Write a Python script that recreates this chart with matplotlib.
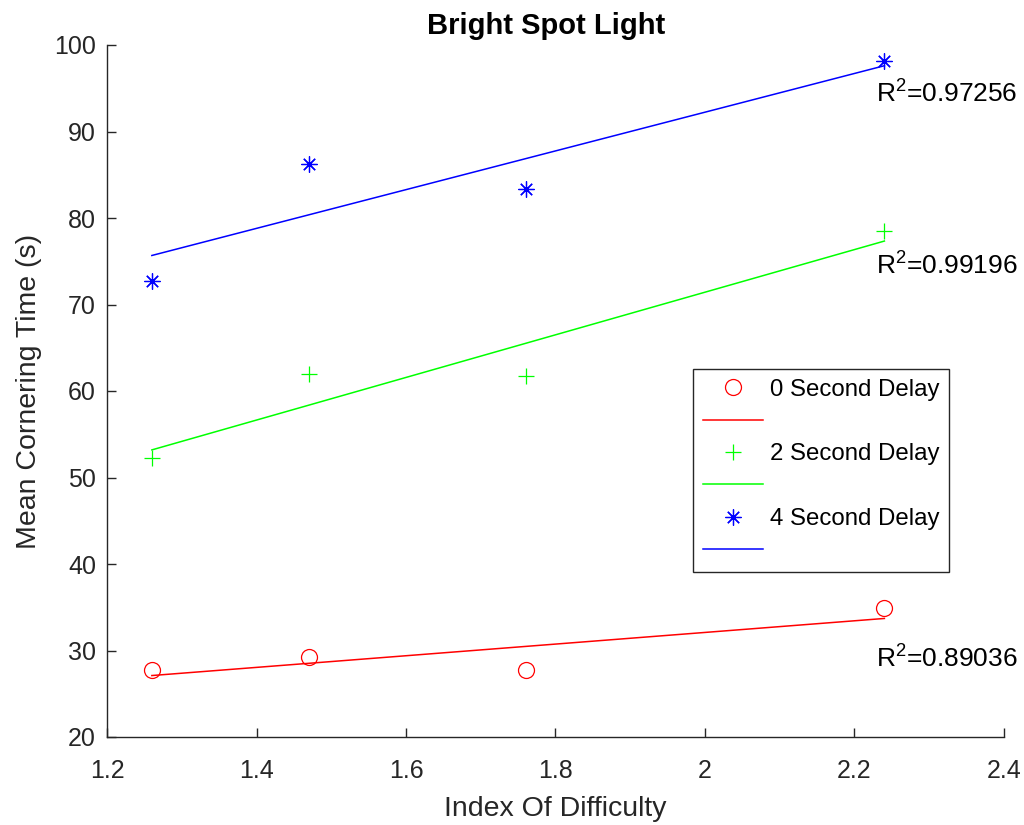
import numpy as np
import matplotlib
matplotlib.use("Agg")
import matplotlib.pyplot as plt
from matplotlib.lines import Line2D

plt.rcParams['font.family'] = ['Liberation Sans', 'DejaVu Sans']
plt.rcParams['mathtext.fontset'] = 'custom'
plt.rcParams['mathtext.rm'] = 'Liberation Sans'
plt.rcParams['mathtext.it'] = 'Liberation Sans'

# data
index_of_difficulty = [1.26, 1.47, 1.76, 2.24]
delay_0 = [27.8, 29.3, 27.8, 34.9]
delay_2 = [52.2, 62.0, 61.7, 78.5]
delay_4 = [72.7, 86.3, 83.4, 98.1]
series_labels = ['0 Second Delay', '2 Second Delay', '4 Second Delay']
r2_labels = ['R$^2$=0.89036', 'R$^2$=0.99196', 'R$^2$=0.97256']
r2_y = [28.0, 73.4, 93.3]

colors = ['#ff0000', '#00ff00', '#0000ff']
markers = ['o', '+', (8, 2, 0)]
dark = '#262626'


def main():
    fig = plt.figure(figsize=(10.24, 8.25), dpi=100)
    ax = fig.add_axes([107 / 1024, 88 / 825, 897 / 1024, 692 / 825])

    x = np.array(index_of_difficulty)
    handles = []
    labels = []
    for ys, c, m, lab, r2, ry in zip([delay_0, delay_2, delay_4], colors, markers,
                                     series_labels, r2_labels, r2_y):
        ys = np.array(ys)
        ax.plot(x, ys, linestyle='none', marker=m, color=c, markersize=11.5,
                markerfacecolor='none', markeredgewidth=0.9)
        # least-squares fit line
        k, b = np.polyfit(x, ys, 1)
        xf = np.array([x.min(), x.max()])
        ax.plot(xf, k * xf + b, color=c, lw=1.1)
        ax.text(2.229, ry, r2, fontsize=19, color='black', va='baseline', ha='left')

        handles.append(Line2D([], [], linestyle='none', marker=m, color=c, markersize=11.5,
                              markerfacecolor='none', markeredgewidth=0.9))
        labels.append(lab)
        handles.append(Line2D([], [], color=c, lw=1.1))
        labels.append('')

    ax.set_xlim(1.2, 2.4)
    ax.set_ylim(20, 100)
    ax.set_xticks(np.arange(1.2, 2.41, 0.2))
    ax.set_xticklabels(['1.2', '1.4', '1.6', '1.8', '2', '2.2', '2.4'])
    ax.set_yticks(np.arange(20, 101, 10))

    for s in ['top', 'right']:
        ax.spines[s].set_visible(False)
    for s in ['left', 'bottom']:
        ax.spines[s].set_color(dark)
        ax.spines[s].set_linewidth(1.0)
    ax.tick_params(axis='both', direction='in', length=6.5, width=1.0, color=dark,
                   labelcolor=dark, labelsize=18)
    ax.tick_params(axis='x', pad=16)
    ax.tick_params(axis='y', pad=8)

    ax.set_xlabel('Index Of Difficulty', fontsize=20.5, color=dark, labelpad=9)
    ax.set_ylabel('Mean Cornering Time (s)', fontsize=20.5, color=dark, labelpad=9)
    ax.set_title('Bright Spot Light', fontsize=21, fontweight='bold', x=0.49, pad=8)

    leg = ax.legend(handles, labels, loc='upper left',
                    bbox_to_anchor=(693 / 1024, 1 - 369 / 825),
                    bbox_transform=fig.transFigure, borderaxespad=0,
                    fontsize=17.3, fancybox=False, framealpha=1, edgecolor=dark,
                    handlelength=2.5, handletextpad=0.3, labelspacing=0.43,
                    borderpad=0.4, numpoints=1)
    leg.get_frame().set_linewidth(1.0)

    fig.savefig('out.png', dpi=100)


if __name__ == "__main__":
    main()
